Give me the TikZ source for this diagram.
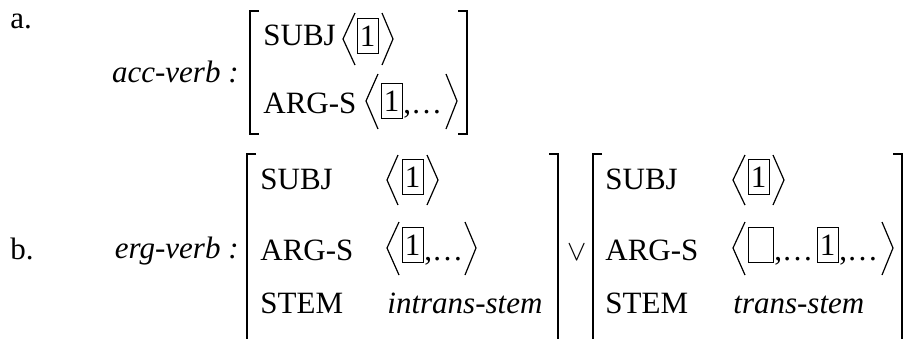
\documentclass[tikz,border=0pt]{standalone}
\usepackage{fontspec}
\setmainfont{Liberation Serif}
\begin{document}
\begin{tikzpicture}[x=0.5pt,y=-0.5pt,font=\fontsize{15.5}{18}\selectfont,
  txt/.style={anchor=base west,inner sep=0pt},
  brak/.style={line width=1pt},
  angl/.style={line width=0.6pt},
  tagbox/.style={draw,line width=0.5pt,minimum width=10.5pt,minimum height=17.5pt,inner sep=0pt}]
\useasboundingbox (0,0) rectangle (911,339);
\node[txt] (a) at (10,28) {a.};
\node[txt,anchor=base east] (acc) at (239,82) {\itshape acc-verb :};
\draw[brak] (259,11) -- (250,11) -- (250,134) -- (259,134);
\draw[brak] (458,11) -- (467,11) -- (467,134) -- (458,134);
\node[txt] (asubj) at (263,45) {SUBJ};
\draw[angl] (355,13) -- (343,39) -- (355,65);
\node[tagbox] (atag) at (367.5,36) {1};
\draw[angl] (382,13) -- (393,39) -- (382,65);
\node[txt] (aargs) at (263,113) {ARG-S};
\draw[angl] (378,74) -- (366,101) -- (378,129);
\node[tagbox] (atagb) at (391.5,101) {1};
\node[txt] (adots) at (403,113) {,…};
\draw[angl] (446,74) -- (457,101) -- (446,129);
\node[txt] (b) at (10,259) {b.};
\node[txt,anchor=base east] (erg) at (239,258) {\itshape erg-verb :};
\draw[brak] (256,154) -- (247,154) -- (247,339);
\draw[brak] (549,154) -- (558,154) -- (558,339);
\node[font=\fontsize{15}{18}\selectfont,inner sep=0pt] (or) at (577,252) {$\vee$};
\draw[brak] (602,154) -- (593,154) -- (593,339);
\draw[brak] (893,154) -- (902,154) -- (902,339);
\node[txt] (isubj) at (260,189) {SUBJ};
\draw[angl] (398,155) -- (387,180) -- (398,205);
\node[tagbox] (itag) at (412.5,177) {1};
\draw[angl] (427,155) -- (438,180) -- (427,205);
\node[txt] (iargs) at (260,260) {ARG-S};
\draw[angl] (399,222) -- (387,248) -- (399,275);
\node[tagbox] (itagb) at (412.5,245) {1};
\node[txt] (idots) at (424,260) {,…};
\draw[angl] (465,222) -- (476,248) -- (465,275);
\node[txt] (istem) at (260,313) {STEM};
\node[txt] (ival) at (387,313) {\itshape intrans-stem};
\node[txt] (tsubj) at (605,189) {SUBJ};
\draw[angl] (745,155) -- (733,180) -- (745,205);
\node[tagbox] (ttag) at (758.5,177) {1};
\draw[angl] (773,155) -- (784,180) -- (773,205);
\node[txt] (targs) at (605,260) {ARG-S};
\draw[angl] (745,222) -- (733,248) -- (745,275);
\node[tagbox,minimum width=12.5pt] (tempty) at (760.5,245) {};
\node[txt] (tdots) at (774,260) {,…};
\node[tagbox] (ttagb) at (827.5,245) {1};
\node[txt] (tdotsb) at (839,260) {,…};
\draw[angl] (882,222) -- (893,248) -- (882,275);
\node[txt] (tstem) at (605,313) {STEM};
\node[txt] (tval) at (733,313) {\itshape trans-stem};
\end{tikzpicture}
\end{document}
